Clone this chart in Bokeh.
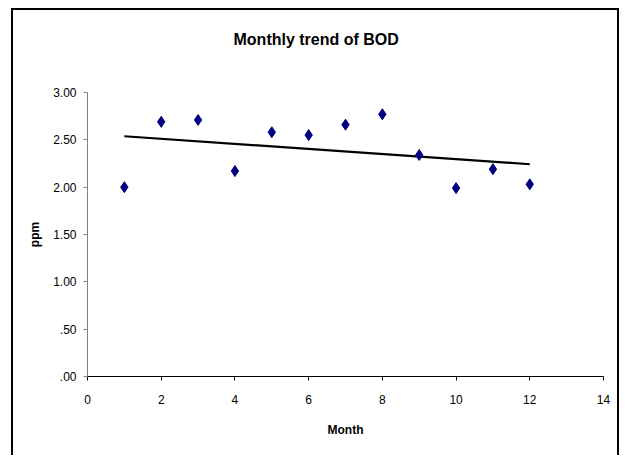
import numpy as np
from bokeh.plotting import figure
from bokeh.models import FixedTicker, ColumnDataSource, Title
from bokeh.embed import file_html
from bokeh.resources import INLINE

# ---- data ----
months = [1, 2, 3, 4, 5, 6, 7, 8, 9, 10, 11, 12]
bod_ppm = [2.00, 2.69, 2.71, 2.17, 2.58, 2.55, 2.66, 2.77, 2.34, 1.99, 2.19, 2.03]
x_ticks = [0, 2, 4, 6, 8, 10, 12, 14]
y_ticks = [0.0, 0.5, 1.0, 1.5, 2.0, 2.5, 3.0]
y_tick_labels = [".00", ".50", "1.00", "1.50", "2.00", "2.50", "3.00"]
title_text = "Monthly trend of BOD"
x_label = "Month"
y_label = "ppm"

# linear trendline (least squares, as in the spreadsheet trendline)
slope, intercept = np.polyfit(months, bod_ppm, 1)
trend_x = [months[0], months[-1]]
trend_y = [intercept + slope * m for m in trend_x]

FONT = "Liberation Sans"

p = figure(width=608, height=447, output_backend="svg", toolbar_location=None,
           x_range=(0, 14), y_range=(0, 3),
           min_border_left=74, min_border_right=18,
           min_border_top=82, min_border_bottom=81,
           title=None)
p.styles = {"margin-left": "11px", "margin-top": "8px",
            "border-left": "2px solid black", "border-top": "2px solid black",
            "border-right": "2px solid black"}
p.background_fill_color = "white"
p.border_fill_color = "white"
p.outline_line_color = None
p.xgrid.visible = False
p.ygrid.visible = False

# spacer (nearest the frame), then the real title above it
p.add_layout(Title(text=" ", text_font=FONT, text_font_size="16px",
                   standoff=26), "above")
p.add_layout(Title(text=title_text, align="left", offset=146, standoff=0,
                   text_font=FONT, text_font_size="16px",
                   text_font_style="bold", text_color="black"), "above")

# trendline
p.line(trend_x, trend_y, line_color="black", line_width=2.2)

# points
src = ColumnDataSource(dict(x=months, y=bod_ppm))
p.scatter("x", "y", source=src, marker="diamond", size=11,
          fill_color="#000080", line_color="#000080")

# axes
p.xaxis.ticker = FixedTicker(ticks=x_ticks)
p.yaxis.ticker = FixedTicker(ticks=y_ticks)
p.yaxis.major_label_overrides = {t: l for t, l in zip(y_ticks, y_tick_labels)}
p.xaxis.minor_tick_line_color = None
p.yaxis.minor_tick_line_color = None
p.xaxis.major_tick_in = 0
p.xaxis.major_tick_out = 4
p.yaxis.major_tick_in = 0
p.yaxis.major_tick_out = 4
p.xaxis.axis_line_color = "black"
p.xaxis.major_tick_line_color = "black"
p.yaxis.axis_line_color = "#808080"
p.yaxis.major_tick_line_color = "#808080"
for ax in (p.xaxis, p.yaxis):
    ax.major_label_text_font = FONT
    ax.major_label_text_font_size = "12px"
    ax.major_label_text_color = "black"
    ax.axis_label_text_font = FONT
    ax.axis_label_text_font_size = "12px"
    ax.axis_label_text_font_style = "bold"
    ax.axis_label_text_color = "black"
p.xaxis.axis_label = x_label
p.yaxis.axis_label = y_label
p.xaxis.major_label_standoff = 14
p.yaxis.major_label_standoff = 7
p.xaxis.axis_label_standoff = 16
p.yaxis.axis_label_standoff = 8

open("out.html", "w").write(file_html(p, INLINE))
